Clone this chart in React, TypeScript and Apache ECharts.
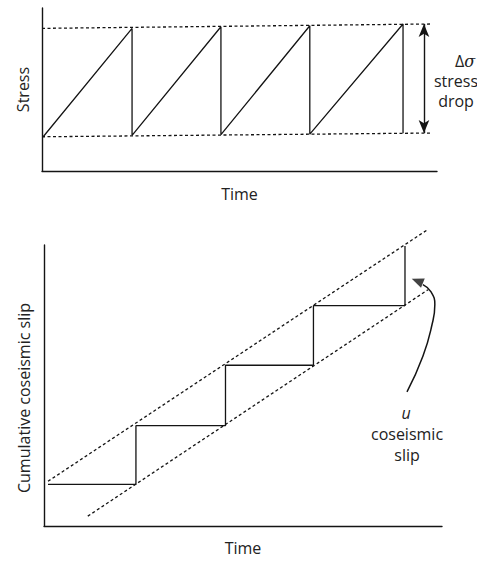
import React, { useEffect, useRef } from "react";
import * as echarts from "echarts";

// ---- Top panel: stress vs time (sawtooth) ----
const sawTime = [0.3, 22.8, 22.8, 45.3, 45.3, 67.8, 67.8, 91.4, 91.4];
const sawStress = [21.0, 87.5, 21.9, 88.5, 22.3, 89.1, 22.6, 90.2, 23.1];
const envTime = [0, 98.7];
const envTopStress = [87.5, 90.2];
const envBottomStress = [21.0, 23.3];
const dropArrowTime = 96.7;
const dropArrowStress = [90.2, 23.3];

// ---- Bottom panel: cumulative coseismic slip vs time (staircase) ----
const slipTime = [1.0, 23.1, 23.1, 45.6, 45.6, 67.7, 67.7, 90.7, 90.7];
const slipValues = [14.8, 14.8, 35.7, 35.7, 57.2, 57.2, 78.4, 78.4, 99.6];
const upperEnvTime = [1.0, 96.2];
const upperEnvSlip = [15.9, 105.3];
const lowerEnvTime = [11.0, 96.5];
const lowerEnvSlip = [3.5, 84.1];
const curveTime = [91.2, 95.2, 97.5, 98.2, 97.2, 95.2];
const curveSlip = [47.7, 60.4, 71.7, 78.8, 83.4, 85.9];
const arrowHeadTime = [93.8];
const arrowHeadSlip = [87.2];

const INK = "#141414";
const TEXT = "#222";
const FONT = "'Open Sans', 'Noto Sans', sans-serif";
const FS = 16;

const zip = (xs: number[], ys: number[]) => xs.map((x, i) => [x, ys[i]]);

export default function App() {
  const ref = useRef<HTMLDivElement>(null);
  useEffect(() => {
    if (!ref.current) return;
    const chart = echarts.init(ref.current, null, { renderer: "svg" });
    const axisCommon = {
      type: "value" as const,
      min: 0,
      max: 100,
      axisLine: { show: true, onZero: false, lineStyle: { color: INK, width: 1.4 } },
      axisTick: { show: false },
      axisLabel: { show: false },
      splitLine: { show: false },
      nameTextStyle: { color: TEXT, fontFamily: FONT, fontSize: FS },
    };
    const solid = { color: INK, width: 1.3 };
    const dashed = { color: INK, width: 1.3, type: [3, 2.5] as any };
    const txt = (text: string, x: number, y: number, extra: any = {}) => ({
      type: "text", x, y,
      style: { text, fill: TEXT, font: `${FS}px ${FONT}`, lineHeight: 18, align: "center", verticalAlign: "middle", ...extra },
    });
    chart.setOption({
      animation: false,
      grid: [
        { left: 42, top: 8, width: 395, height: 163 },
        { left: 44, top: 245, width: 398, height: 283 },
      ],
      xAxis: [
        { ...axisCommon, gridIndex: 0, name: "Time", nameLocation: "middle", nameGap: 15 },
        { ...axisCommon, gridIndex: 1, name: "Time", nameLocation: "middle", nameGap: 14 },
      ],
      yAxis: [
        { ...axisCommon, gridIndex: 0, name: "Stress", nameLocation: "middle", nameGap: 11 },
        { ...axisCommon, gridIndex: 1 },
      ],
      series: [
        {
          type: "line", xAxisIndex: 0, yAxisIndex: 0, symbol: "none",
          data: zip(sawTime, sawStress), lineStyle: solid,
          markLine: {
            silent: true,
            symbol: ["arrow", "arrow"],
            symbolSize: [8, 13],
            label: { show: false },
            lineStyle: { color: INK, width: 1.4, type: "solid" },
            data: [[
              { coord: [dropArrowTime, dropArrowStress[0]] },
              { coord: [dropArrowTime, dropArrowStress[1]] },
            ]],
          },
        },
        { type: "line", xAxisIndex: 0, yAxisIndex: 0, symbol: "none", data: zip(envTime, envTopStress), lineStyle: dashed },
        { type: "line", xAxisIndex: 0, yAxisIndex: 0, symbol: "none", data: zip(envTime, envBottomStress), lineStyle: dashed },
        { type: "line", xAxisIndex: 1, yAxisIndex: 1, symbol: "none", clip: false, data: zip(slipTime, slipValues), lineStyle: solid },
        { type: "line", xAxisIndex: 1, yAxisIndex: 1, symbol: "none", clip: false, data: zip(upperEnvTime, upperEnvSlip), lineStyle: dashed },
        { type: "line", xAxisIndex: 1, yAxisIndex: 1, symbol: "none", clip: false, data: zip(lowerEnvTime, lowerEnvSlip), lineStyle: dashed },
        { type: "line", xAxisIndex: 1, yAxisIndex: 1, symbol: "none", clip: false, smooth: 0.5, data: zip(curveTime, curveSlip), lineStyle: { color: INK, width: 1.5 } },
        {
          type: "scatter", xAxisIndex: 1, yAxisIndex: 1, clip: false,
          symbol: "triangle", symbolSize: [10, 12], symbolRotate: 68,
          itemStyle: { color: INK }, data: zip(arrowHeadTime, arrowHeadSlip),
        },
      ],
      graphic: [
        {
          type: "text", x: 465, y: 61,
          style: {
            text: "Δ{i|σ}", fill: TEXT, font: `${FS}px ${FONT}`, lineHeight: 18, align: "center", verticalAlign: "middle",
            rich: { i: { fontStyle: "italic", fontFamily: "'DejaVu Serif', serif", fontSize: FS, lineHeight: 18, fill: TEXT } },
          } as any,
        },
        txt("stress", 456, 81),
        txt("drop", 456, 101),
        txt("u", 406, 413, { font: `italic ${FS}px ${FONT}` }),
        txt("coseismic", 407, 434),
        txt("slip", 407, 455),
        { ...txt("Cumulative coseismic slip", 24, 398), rotation: Math.PI / 2 },
      ],
    });
    return () => chart.dispose();
  }, []);
  return <div ref={ref} style={{ position: "absolute", left: 0, top: 0, width: 477, height: 561, background: "#fff" }} />;
}
